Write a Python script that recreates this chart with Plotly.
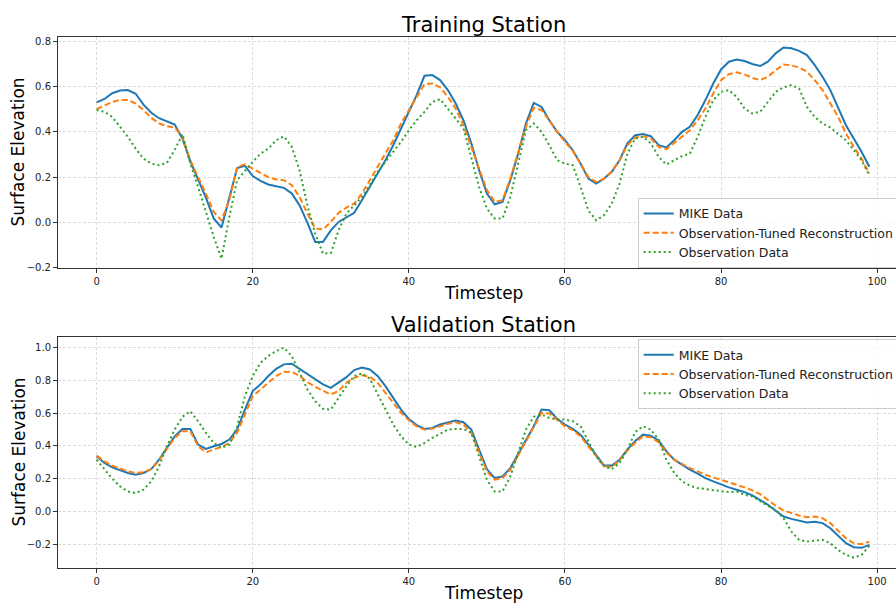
import plotly.graph_objects as go

# Timesteps 0..99
timesteps = list(range(100))

# Training station series
mike_train = [
    0.53, 0.545, 0.57, 0.582, 0.584, 0.568, 0.52, 0.484, 0.46, 0.447,
    0.432, 0.37, 0.27, 0.19, 0.11, 0.018, -0.022, 0.11, 0.24, 0.25,
    0.205, 0.184, 0.168, 0.16, 0.153, 0.128, 0.076, 0.0, -0.085, -0.085,
    -0.034, 0.003, 0.022, 0.043, 0.1, 0.157, 0.216, 0.275, 0.341, 0.415,
    0.488, 0.562, 0.647, 0.65, 0.628, 0.584, 0.525, 0.451, 0.349, 0.231,
    0.128, 0.081, 0.091, 0.187, 0.304, 0.437, 0.528, 0.51, 0.451, 0.4,
    0.363, 0.319, 0.26, 0.194, 0.172, 0.194, 0.224, 0.275, 0.349, 0.385,
    0.39, 0.381, 0.341, 0.331, 0.363, 0.4, 0.422, 0.474, 0.54, 0.613,
    0.675, 0.709, 0.719, 0.712, 0.699, 0.69, 0.709, 0.746, 0.772, 0.768,
    0.757, 0.738, 0.694, 0.643, 0.584, 0.51, 0.429, 0.371, 0.312, 0.246,
]
recon_train = [
    0.5, 0.515, 0.532, 0.541, 0.54, 0.525, 0.496, 0.462, 0.437, 0.425,
    0.419, 0.378, 0.275, 0.2, 0.128, 0.047, 0.01, 0.1, 0.245, 0.257,
    0.238, 0.216, 0.2, 0.19, 0.187, 0.165, 0.113, 0.04, -0.026, -0.03,
    0.003, 0.043, 0.066, 0.084, 0.128, 0.187, 0.246, 0.304, 0.363, 0.437,
    0.496, 0.554, 0.61, 0.613, 0.596, 0.554, 0.503, 0.429, 0.334, 0.231,
    0.143, 0.091, 0.099, 0.194, 0.312, 0.422, 0.506, 0.496, 0.451, 0.4,
    0.356, 0.316, 0.26, 0.201, 0.179, 0.194, 0.226, 0.275, 0.341, 0.375,
    0.381, 0.371, 0.334, 0.324, 0.351, 0.378, 0.407, 0.451, 0.503, 0.569,
    0.628, 0.654, 0.662, 0.653, 0.638, 0.628, 0.643, 0.672, 0.697, 0.693,
    0.684, 0.665, 0.628, 0.584, 0.525, 0.466, 0.393, 0.334, 0.282, 0.216,
]
obs_train = [
    0.496, 0.488, 0.466, 0.42, 0.378, 0.326, 0.282, 0.26, 0.253, 0.263,
    0.32, 0.39, 0.26, 0.157, 0.047, -0.063, -0.159, 0.025, 0.187, 0.23,
    0.268, 0.304, 0.326, 0.363, 0.38, 0.334, 0.23, 0.076, -0.049, -0.137,
    -0.134, -0.034, 0.04, 0.076, 0.113, 0.165, 0.224, 0.268, 0.312, 0.356,
    0.407, 0.451, 0.488, 0.532, 0.544, 0.503, 0.459, 0.415, 0.29, 0.157,
    0.062, 0.018, 0.018, 0.113, 0.26, 0.407, 0.437, 0.4, 0.341, 0.275,
    0.26, 0.253, 0.157, 0.054, 0.01, 0.032, 0.084, 0.172, 0.304, 0.371,
    0.378, 0.349, 0.29, 0.256, 0.275, 0.293, 0.304, 0.378, 0.466, 0.54,
    0.576, 0.584, 0.554, 0.503, 0.481, 0.488, 0.532, 0.576, 0.596, 0.606,
    0.591, 0.51, 0.466, 0.437, 0.419, 0.393, 0.363, 0.319, 0.275, 0.209,
]

# Validation station series
mike_val = [
    0.337, 0.296, 0.269, 0.251, 0.235, 0.224, 0.235, 0.259, 0.316, 0.388,
    0.459, 0.504, 0.504, 0.408, 0.382, 0.398, 0.412, 0.439, 0.5, 0.622,
    0.735, 0.776, 0.827, 0.871, 0.898, 0.902, 0.871, 0.841, 0.81, 0.776,
    0.755, 0.786, 0.82, 0.863, 0.878, 0.867, 0.827, 0.765, 0.694, 0.622,
    0.565, 0.527, 0.504, 0.51, 0.531, 0.545, 0.555, 0.545, 0.5, 0.378,
    0.259, 0.204, 0.214, 0.265, 0.347, 0.429, 0.52, 0.622, 0.618, 0.565,
    0.531, 0.504, 0.469, 0.408, 0.347, 0.282, 0.28, 0.316, 0.378, 0.43,
    0.469, 0.463, 0.433, 0.367, 0.316, 0.286, 0.255, 0.231, 0.204, 0.184,
    0.163, 0.147, 0.133, 0.118, 0.098, 0.071, 0.041, 0.004, -0.031, -0.045,
    -0.057, -0.067, -0.063, -0.071, -0.102, -0.149, -0.194, -0.218, -0.222, -0.204,
]
recon_val = [
    0.341, 0.306, 0.28, 0.261, 0.245, 0.235, 0.239, 0.259, 0.31, 0.382,
    0.449, 0.49, 0.49, 0.398, 0.361, 0.378, 0.394, 0.418, 0.48, 0.592,
    0.704, 0.745, 0.786, 0.827, 0.851, 0.853, 0.827, 0.79, 0.761, 0.735,
    0.714, 0.735, 0.786, 0.816, 0.831, 0.822, 0.786, 0.724, 0.663, 0.602,
    0.557, 0.52, 0.5, 0.506, 0.52, 0.535, 0.545, 0.531, 0.48, 0.357,
    0.245, 0.194, 0.204, 0.255, 0.341, 0.422, 0.514, 0.602, 0.598, 0.557,
    0.52, 0.496, 0.459, 0.398, 0.337, 0.276, 0.271, 0.312, 0.373, 0.42,
    0.459, 0.453, 0.422, 0.361, 0.316, 0.29, 0.265, 0.245, 0.224, 0.208,
    0.194, 0.178, 0.163, 0.147, 0.129, 0.106, 0.071, 0.035, 0.006, -0.01,
    -0.024, -0.035, -0.031, -0.041, -0.071, -0.118, -0.163, -0.194, -0.2, -0.184,
]
obs_val = [
    0.316, 0.255, 0.2, 0.153, 0.122, 0.112, 0.133, 0.184, 0.276, 0.398,
    0.5, 0.578, 0.612, 0.551, 0.48, 0.418, 0.388, 0.408, 0.52, 0.704,
    0.827, 0.908, 0.949, 0.98, 1.0, 0.949, 0.847, 0.745, 0.673, 0.627,
    0.622, 0.694, 0.765, 0.827, 0.843, 0.81, 0.714, 0.622, 0.531, 0.459,
    0.408, 0.394, 0.418, 0.449, 0.476, 0.5, 0.504, 0.504, 0.48, 0.337,
    0.194, 0.122, 0.122, 0.214, 0.357, 0.5, 0.578, 0.592, 0.571, 0.561,
    0.561, 0.551, 0.52, 0.429, 0.337, 0.276, 0.259, 0.296, 0.378, 0.485,
    0.52, 0.5, 0.439, 0.316, 0.235, 0.184, 0.157, 0.143, 0.137, 0.129,
    0.122, 0.118, 0.122, 0.102, 0.092, 0.061, 0.035, 0.01, -0.041, -0.122,
    -0.173, -0.184, -0.18, -0.173, -0.194, -0.235, -0.265, -0.282, -0.265, -0.21,
]

series_names = ["MIKE Data", "Observation-Tuned Reconstruction", "Observation Data"]
x_ticks = [0, 20, 40, 60, 80, 100]
y_ticks_train = [-0.2, 0.0, 0.2, 0.4, 0.6, 0.8]
y_ticks_val = [-0.2, 0.0, 0.2, 0.4, 0.6, 0.8, 1.0]

FONT = "DejaVu Sans"
colors = ["#1f77b4", "#ff7f0e", "#2ca02c"]
dashes = ["solid", "6px,3px", "2px,3px"]

fig = go.Figure()

panels = [
    ("x", "y", [mike_train, recon_train, obs_train], "legend"),
    ("x2", "y2", [mike_val, recon_val, obs_val], "legend2"),
]
for xa, ya, data, leg in panels:
    for name, vals, col, dash in zip(series_names, data, colors, dashes):
        fig.add_trace(go.Scatter(
            x=timesteps, y=vals, mode="lines", name=name,
            line=dict(color=col, width=2, dash=dash),
            xaxis=xa, yaxis=ya, legend=leg,
        ))

axis_common = dict(
    showline=True, mirror=True, linecolor="#333333", linewidth=1,
    ticks="outside", ticklen=4, tickcolor="#333333", tickwidth=1,
    tickfont=dict(family=FONT, size=10, color="#222222"),
    showgrid=True, gridcolor="#dcdcdc", griddash="3px,2px", gridwidth=1,
    zeroline=False,
)

x_range = [-4.95, 103.95]
top_dom = [0.565, 1.0]
bot_dom = [0.0, 0.435]

legend_common = dict(
    x=0.682, xanchor="left", yanchor="top",
    bgcolor="rgba(255,255,255,0.8)", bordercolor="#cccccc", borderwidth=1,
    font=dict(family=FONT, size=12.5, color="#222222"),
    itemwidth=30, tracegroupgap=0,
)

fig.update_layout(
    width=912, height=605,
    margin=dict(l=58, r=4, t=37, b=37),
    paper_bgcolor="white", plot_bgcolor="white",
    font=dict(family=FONT, color="#000000"),
    showlegend=True,
    xaxis=dict(domain=[0, 1], anchor="y", range=x_range, tickvals=x_ticks, **axis_common),
    yaxis=dict(domain=top_dom, anchor="x", range=[-0.2, 0.818], tickvals=y_ticks_train,
               tickformat=".1f", **axis_common),
    xaxis2=dict(domain=[0, 1], anchor="y2", range=x_range, tickvals=x_ticks, **axis_common),
    yaxis2=dict(domain=bot_dom, anchor="x2", range=[-0.345, 1.065], tickvals=y_ticks_val,
                tickformat=".1f", **axis_common),
    legend=dict(y=0.697, **legend_common),
    legend2=dict(y=0.431, **legend_common),
)

annotations = [
    dict(text="Training Station", x=0.5, y=1.0226, yanchor="middle", font_size=21),
    dict(text="Validation Station", x=0.5, y=0.4577, yanchor="middle", font_size=21),
    dict(text="Timestep", x=0.5, y=0.518, yanchor="middle", font_size=17),
    dict(text="Timestep", x=0.5, y=-0.047, yanchor="middle", font_size=17),
    dict(text="Surface Elevation", x=-0.047, y=0.7825, textangle=-90,
         xanchor="center", yanchor="middle", font_size=17),
    dict(text="Surface Elevation", x=-0.047, y=0.2175, textangle=-90,
         xanchor="center", yanchor="middle", font_size=17),
]
for a in annotations:
    fig.add_annotation(xref="paper", yref="paper", showarrow=False,
                       font=dict(family=FONT, size=a.pop("font_size"), color="#000000"),
                       **a)

# The figure is slightly wider than the viewport; clip the overflow instead of scrolling.
hide_overflow = (
    "document.documentElement.style.overflow='hidden';"
    "document.body.style.overflow='hidden';"
    "document.body.style.margin='0';"
)

fig.write_html("out.html", post_script=hide_overflow)
